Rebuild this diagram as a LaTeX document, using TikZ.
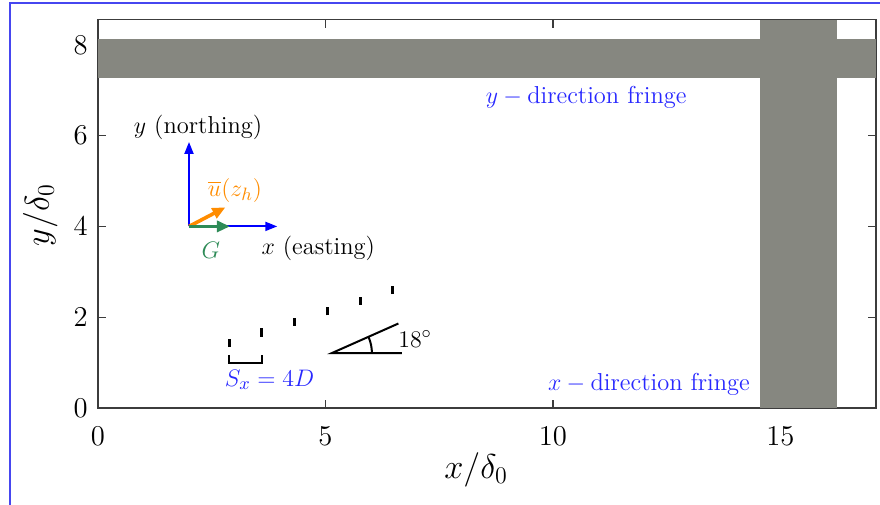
\documentclass[tikz,border=0pt]{standalone}
\usepackage{amsmath}
\usetikzlibrary{arrows.meta}
\definecolor{bandgray}{RGB}{134,135,128}
\definecolor{framegray}{RGB}{60,60,60}
\definecolor{windorange}{RGB}{255,140,0}
\definecolor{geogreen}{RGB}{46,139,87}
\definecolor{fringeblue}{RGB}{40,40,255}
\definecolor{edgeblue}{RGB}{70,70,240}

\begin{document}
\begin{tikzpicture}[x=22.75bp, y=22.7bp,
      frm/.style={draw=framegray, line width=0.6bp},
      tickmark/.style={draw=framegray, line width=0.6bp},
      band/.style={fill=bandgray},
      ticklab/.style={font=\fontsize{14.5}{17}\selectfont, inner sep=0pt},
      axlab/.style={font=\fontsize{17}{20}\selectfont, inner sep=0pt},
      note/.style={font=\fontsize{12.3}{14}\selectfont, inner sep=0pt},
      axarr/.style={-{Triangle[length=6bp, width=4.5bp]}, line width=1bp, blue},
      vecarr/.style={-{Triangle[length=6.5bp, width=5.5bp]}, line width=1.8bp},
      turb/.style={line width=1.5bp, black},
      ang/.style={line width=1bp, black}
    ]
    \useasboundingbox (-2.154,-2.115) rectangle (17.187,8.987);
    % outer frame, cut at right and bottom
    \draw[edgeblue, line width=0.9bp] (-1.94,-2.3) -- (-1.94,8.92) -- (17.4,8.92);
    % axes box and ticks
    \draw[frm] (0,0) rectangle (17.1,8.55);
    \foreach \xv in {0,5,10,15} {
      \draw[tickmark] (\xv,0) -- (\xv,0.17);
      \draw[tickmark] (\xv,8.55) -- (\xv,8.38);
      \node[ticklab] (xt\xv) at (\xv,-0.62) {$\xv$};
    }
    \foreach \yv in {0,2,4,6,8} {
      \draw[tickmark] (0,\yv) -- (0.17,\yv);
      \draw[tickmark] (17.1,\yv) -- (16.93,\yv);
      \node[ticklab, anchor=east] (yt\yv) at (-0.22,\yv) {$\yv$};
    }
    % fringes
    \fill[band] (0,7.28) rectangle (17.1,8.13);
    \fill[band] (14.55,0) rectangle (16.24,8.55);
    \node[axlab] (xlab) at (8.31,-1.37) {$x/\delta_0$};
    \node[axlab, rotate=90] (ylab) at (-1.27,4.25) {$y/\delta_0$};
    \node[note, text=fringeblue] (yfr) at (10.73,6.85) {$y-{}$direction fringe};
    \node[note, text=fringeblue] (xfr) at (12.11,0.53) {$x-{}$direction fringe};
    % compass
    \coordinate (O) at (2,4);
    \coordinate (xtip) at (3.94,4);
    \coordinate (ytip) at (2,5.86);
    \coordinate (utip) at (2.8,4.42);
    \coordinate (gtip) at (2.9,4);
    \draw[axarr] (O) -- (xtip);
    \draw[axarr] (O) -- (ytip);
    \draw[vecarr, windorange] (O) -- (utip);
    \draw[vecarr, geogreen] (O) -- (gtip);
    \node[note] (north) at (2.20,6.19) {$y$ (northing)};
    \node[note] (east) at (4.84,3.52) {$x$ (easting)};
    \node[note, text=geogreen] (glab) at (2.48,3.48) {$G$};
    \node[note, text=windorange] (ulab) at (3.01,4.80) {$\overline{u}(z_h)$};
    % turbine row
    \foreach \i in {0,...,5}
      \draw[turb] ({2.88+0.72*\i},{1.34+0.234*\i}) -- ++(0,0.18);
    \draw[ang] (2.88,1.17) -- (2.88,0.99) -- (3.60,0.99) -- (3.60,1.17);
    \node[note, text=fringeblue] (sx) at (3.77,0.62) {$S_x=4D$};
    % row angle
    \coordinate (A) at (5.14,1.21);
    \draw[ang] (6.68,1.21) -- (A) -- ++(24:1.6);
    \draw[ang] (A) ++(0.88,0) arc[start angle=0, end angle=24, radius=0.88];
    \node[note] (deg) at (6.97,1.52) {$18^\circ$};
  \end{tikzpicture}
\end{document}
